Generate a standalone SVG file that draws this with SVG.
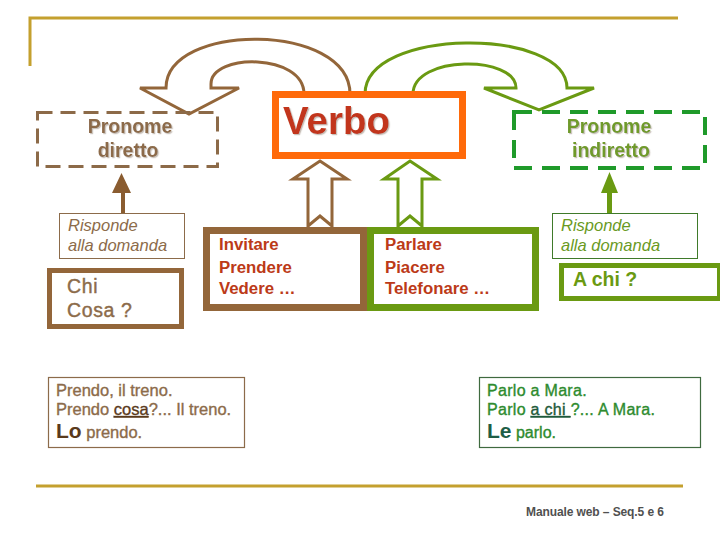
<svg xmlns="http://www.w3.org/2000/svg" width="720" height="540" viewBox="0 0 720 540">
<defs>
<filter id="sh" x="-10%" y="-10%" width="130%" height="140%">
<feDropShadow dx="1.2" dy="1.2" stdDeviation="0.4" flood-color="#c8c0b8" flood-opacity="1"/>
</filter>
</defs>
<style>
text{font-family:"Liberation Sans",Arial,sans-serif}
.gold{fill:none;stroke:#C4A02E;stroke-width:3}
.bth{fill:#fff;stroke:#93663A;stroke-width:3}
.gth{fill:#fff;stroke:#6A9A12;stroke-width:3}
.pd{font-size:19.5px;font-weight:bold;fill:#8C6B4A;text-anchor:middle}
.pi{font-size:19.5px;font-weight:bold;fill:#6F9A2A;text-anchor:middle}
.verb{font-size:16.8px;font-weight:bold;fill:#BC3A18}
.itb{font-size:16.5px;font-style:italic;fill:#8C6B4A}
.itg{font-size:16.5px;font-style:italic;fill:#6A9A1F}
.exb{font-size:16.5px;fill:#8C6B4A;stroke:#8C6B4A;stroke-width:0.35}
.exg{font-size:16px;fill:#2E8B2E;stroke:#2E8B2E;stroke-width:0.35}
</style>
<g id="frame">
<path class="gold" d="M30,66 L30,18 L678,18"/>
<path class="gold" d="M36,486 L683,486"/>
</g>
<g id="connectors">
<path class="bth" d="M304,94 C304,53 211,53 211,84 L211,88 L239,88 L189,114 L140,88 L166,88 C166,22 350,22 350,94 Z"/>
<path class="gth" d="M413,94 C413,55 516,55 516,88 L484,88 L539,110 L594,88 L567,88 C567,27 365,27 365,94 Z"/>
<path class="bth" d="M320,161 L347,179 L332,179 L332,226 L320,216 L308,226 L308,179 L293,179 Z"/>
<path class="gth" d="M410,161 L437,179 L422,179 L422,226 L410,216 L398,226 L398,179 L384,179 Z"/>
<path fill="#8A5C30" d="M121,213 L121,193 L112,193 L121.5,173 L131,193 L125,193 L125,213 Z"/>
<path fill="#6A9A12" d="M607,213 L607,193 L601,193 L609.5,172 L618,193 L612,193 L612,213 Z"/>
</g>
<g id="verbo">
<rect x="275.5" y="94.5" width="187" height="61" fill="#fff" stroke="#FF6A0A" stroke-width="7"/>
<text x="283" y="134" font-size="38.5" font-weight="bold" fill="#C2361A" filter="url(#sh)">Verbo</text>
</g>
<g id="pronome-diretto">
<rect x="37.5" y="112.5" width="180" height="54" fill="none" stroke="#8C6A48" stroke-width="3" stroke-dasharray="15,8"/>
<text class="pd" x="130" y="133" filter="url(#sh)">Pronome</text>
<text class="pd" x="128" y="157" filter="url(#sh)">diretto</text>
</g>
<g id="pronome-indiretto">
<rect x="514" y="112" width="191" height="56" fill="none" stroke="#1F9A2A" stroke-width="4" stroke-dasharray="18,10"/>
<text class="pi" x="609" y="133" filter="url(#sh)">Pronome</text>
<text class="pi" x="611" y="157" filter="url(#sh)">indiretto</text>
</g>
<g id="risponde-diretto">
<rect x="59.5" y="213.5" width="125" height="45" fill="#fff" stroke="#8C6B4A" stroke-width="1"/>
<text class="itb" x="68" y="231">Risponde</text>
<text class="itb" x="68" y="251">alla domanda</text>
</g>
<g id="chi-cosa">
<rect x="49.5" y="270.5" width="132" height="56" fill="#fff" stroke="#93663A" stroke-width="5"/>
<text x="67" y="293" font-size="19.5" fill="#8C6B4A" stroke="#8C6B4A" stroke-width="0.4" letter-spacing="0.6">Chi</text>
<text x="67" y="317" font-size="19.5" fill="#8C6B4A" stroke="#8C6B4A" stroke-width="0.4" letter-spacing="0.6">Cosa ?</text>
</g>
<g id="verbi-diretti">
<rect x="206.5" y="230.5" width="157" height="77" fill="#fff" stroke="#93663A" stroke-width="7"/>
<text class="verb" x="219" y="250">Invitare</text>
<text class="verb" x="219" y="273">Prendere</text>
<text class="verb" x="219" y="294">Vedere  …</text>
</g>
<g id="verbi-indiretti">
<rect x="370.5" y="230.5" width="165" height="77" fill="#fff" stroke="#6A9A12" stroke-width="7"/>
<text class="verb" x="385" y="250">Parlare</text>
<text class="verb" x="385" y="273">Piacere</text>
<text class="verb" x="385" y="294">Telefonare …</text>
</g>
<g id="risponde-indiretto">
<rect x="552.5" y="213.5" width="145" height="45" fill="#fff" stroke="#3F7A2A" stroke-width="1"/>
<text class="itg" x="561" y="231">Risponde</text>
<text class="itg" x="561" y="251">alla domanda</text>
</g>
<g id="a-chi">
<rect x="561.5" y="265.5" width="158" height="33" fill="#fff" stroke="#6A9A12" stroke-width="5"/>
<text x="573" y="286" font-size="19.5" font-weight="bold" fill="#6A9A12">A chi ?</text>
</g>
<g id="esempio-diretto">
<rect x="48.5" y="377.5" width="196" height="70" fill="#fff" stroke="#8C6B4A" stroke-width="1.2"/>
<text class="exb" x="56" y="396">Prendo, il treno.</text>
<text class="exb" x="56" y="415">Prendo <tspan fill="#5A3A1C" stroke="#5A3A1C" text-decoration="underline">cosa</tspan>?... Il treno.</text>
<text class="exb" x="56" y="438"><tspan font-size="21" font-weight="bold" fill="#5A3A1C" stroke="none">Lo</tspan> prendo.</text>
</g>
<g id="esempio-indiretto">
<rect x="479.5" y="377.5" width="221" height="70" fill="#fff" stroke="#3F6A3F" stroke-width="1.2"/>
<text class="exg" x="487" y="396" letter-spacing="0.3">Parlo a Mara.</text>
<text class="exg" x="487" y="415" letter-spacing="0.3">Parlo <tspan fill="#1E5A3A" stroke="#1E5A3A" text-decoration="underline">a chi </tspan>?... A Mara.</text>
<text class="exg" x="487" y="438"><tspan font-size="21" font-weight="bold" fill="#1E5E46" stroke="none">Le</tspan> parlo.</text>
</g>
<g id="footer">
<text x="526" y="516" font-size="12" font-weight="bold" fill="#505050" letter-spacing="-0.1">Manuale web  – Seq.5 e 6</text>
</g>
</svg>
